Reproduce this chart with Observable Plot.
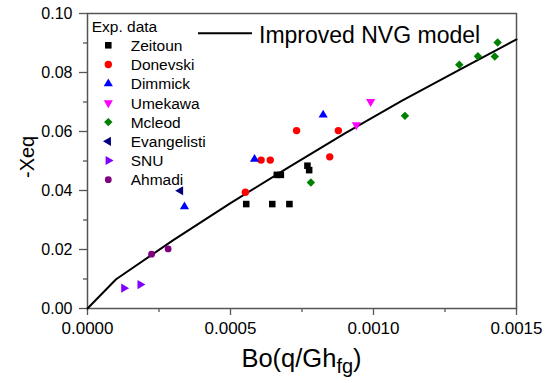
<!DOCTYPE html>
<html><head><meta charset="utf-8">
<script src="https://cdn.jsdelivr.net/npm/d3@7"></script>
<script src="https://cdn.jsdelivr.net/npm/@observablehq/plot@0.6"></script>
<style>
html,body{margin:0;padding:0;background:#fff;}
#chart svg{display:block;}
</style>
</head><body><div id="chart"></div>
<script>
// ---- data ----
const seriesNames = ["Zeitoun","Donevski","Dimmick","Umekawa","Mcleod","Evangelisti","SNU","Ahmadi"];
const zeitounX = [0.000555,0.000646,0.000706,0.000662,0.000676,0.000769,0.000775];
const zeitounY = [0.0354,0.0354,0.0354,0.0453,0.0453,0.0484,0.0469];
const donevskiX = [0.000552,0.000607,0.000639,0.000847,0.000731,0.000877];
const donevskiY = [0.0394,0.0503,0.0503,0.0514,0.0603,0.0603];
const dimmickX = [0.000584,0.000824,0.000339];
const dimmickY = [0.0506,0.0656,0.0345];
const umekawaX = [0.00099,0.00094];
const umekawaY = [0.0701,0.0622];
const mcleodX = [0.000781,0.00111,0.0013,0.001365,0.001424,0.001434];
const mcleodY = [0.0427,0.0653,0.0826,0.0855,0.0854,0.0902];
const evangelistiX = [0.000325];
const evangelistiY = [0.0399];
const snuX = [0.000127,0.000184];
const snuY = [0.0069,0.0081];
const ahmadiX = [0.000224,0.000282];
const ahmadiY = [0.0184,0.0202];
const modelX = [0,0.0001,0.0003,0.0005,0.0007,0.0009,0.0011,0.0013,0.0015];
const modelY = [0,0.0099,0.0232,0.0357,0.0477,0.0594,0.0705,0.0809,0.0912];
const xTicks = [0,0.0005,0.001,0.0015];
const xMinor = [0.00025,0.00075,0.00125];
const yTicks = [0,0.02,0.04,0.06,0.08,0.10];
const yMinor = [0.01,0.03,0.05,0.07,0.09];
const modelLabel = "Improved NVG model";
const legendTitle = "Exp. data";
const yTitle = "-Xeq";

// ---- symbols ----
function tri(angle){
  return {draw(ctx, size){
    const a = Math.sqrt(size*4/Math.sqrt(3)), h = a*Math.sqrt(3)/2;
    const c = Math.cos(angle), s = Math.sin(angle);
    const pts = [[0,-2*h/3],[a/2,h/3],[-a/2,h/3]].map(([x,y])=>[x*c-y*s, x*s+y*c]);
    ctx.moveTo(pts[0][0],pts[0][1]); ctx.lineTo(pts[1][0],pts[1][1]); ctx.lineTo(pts[2][0],pts[2][1]); ctx.closePath();
  }};
}
const d3sym = {square: d3.symbolSquare, circle: d3.symbolCircle, diamond2: d3.symbolDiamond2};
const styles = [
  {symbol:"square", fill:"#000000", r:3.7},
  {symbol:"circle", fill:"#ff0000", r:3.7},
  {symbol:tri(0), fill:"#0000ff", r:3.4},
  {symbol:tri(Math.PI), fill:"#ff00ff", r:3.4},
  {symbol:"diamond2", fill:"#008000", r:3.8},
  {symbol:tri(-Math.PI/2), fill:"#000080", r:3.4},
  {symbol:tri(Math.PI/2), fill:"#8000ff", r:3.4},
  {symbol:"circle", fill:"#800080", r:3.4}
];
const seriesX = [zeitounX,donevskiX,dimmickX,umekawaX,mcleodX,evangelistiX,snuX,ahmadiX];
const seriesY = [zeitounY,donevskiY,dimmickY,umekawaY,mcleodY,evangelistiY,snuY,ahmadiY];
const series = seriesNames.map((name,i)=>({name, ...styles[i], rows: seriesX[i].map((x,j)=>({x, y: seriesY[i][j]}))}));
const modelRows = modelX.map((x,i)=>({x, y: modelY[i]}));

const FONT = "'Liberation Sans', Arial, sans-serif";
const W = 554, H = 383, ML = 87, MR = 38, MT = 13, MB = 75;
const axisColor = "#555";

const chart = Plot.plot({
  width: W, height: H,
  marginLeft: ML, marginRight: MR, marginTop: MT, marginBottom: MB,
  style: {fontFamily: FONT, background: "#fff", color: "#000"},
  x: {domain: [0, 0.0015], axis: null},
  y: {domain: [0, 0.10], axis: null},
  marks: [
    Plot.axisX(xTicks, {label: null, tickSize: 7, tickPadding: 6, tickFormat: d3.format(".4f"), fontSize: 17, stroke: axisColor, strokeWidth: 1.3, fill: "#000"}),
    Plot.axisX(xMinor, {label: null, tickSize: 4, tickFormat: null, text: null, stroke: axisColor, strokeWidth: 1.3}),
    Plot.axisY(yTicks, {label: null, tickSize: 8, tickPadding: 7, tickFormat: d3.format(".2f"), fontSize: 16, stroke: axisColor, strokeWidth: 1.3, fill: "#000"}),
    Plot.axisY(yMinor, {label: null, tickSize: 4, tickFormat: null, text: null, stroke: axisColor, strokeWidth: 1.3}),
    Plot.frame({stroke: axisColor, strokeWidth: 1.5}),
    Plot.line(modelRows, {x: "x", y: "y", stroke: "#000", strokeWidth: 2}),
    ...series.map(s => Plot.dot(s.rows, {x: "x", y: "y", symbol: s.symbol, fill: s.fill, r: s.r, stroke: "none"})),
    Plot.text([yTitle], {frameAnchor: "left", dx: -60, dy: 17, rotate: -90, fontSize: 20, fill: "#000"})
  ]
});
document.getElementById("chart").appendChild(chart);

// ---- legend & x title (layout additions) ----
const svg = d3.select(chart);
const lg = svg.append("g").attr("font-family", FONT).attr("fill", "#000").attr("text-anchor", "start");
lg.append("text").attr("x", ML + 4.7).attr("y", MT + 19).attr("font-size", 15.5).text(legendTitle);
series.forEach((s, i) => {
  const cy = MT + 32.3 + i * 19.2;
  const size = Math.PI * s.r * s.r;
  const type = typeof s.symbol === "string" ? d3sym[s.symbol] : s.symbol;
  lg.append("path").attr("d", d3.symbol(type, size)()).attr("transform", `translate(${ML + 21.3},${cy})`).attr("fill", s.fill);
  lg.append("text").attr("x", ML + 43.7).attr("y", cy + 5.6).attr("font-size", 15.5).text(s.name);
});
lg.append("line").attr("x1", ML + 111).attr("x2", ML + 165).attr("y1", MT + 20.3).attr("y2", MT + 20.3).attr("stroke", "#000").attr("stroke-width", 2);
lg.append("text").attr("x", ML + 172).attr("y", MT + 29.7).attr("font-size", 23).text(modelLabel);

const xt = svg.append("text").attr("font-family", FONT).attr("fill", "#000").attr("text-anchor", "middle")
  .attr("x", ML + (W - ML - MR) / 2).attr("y", H - 16.3).attr("font-size", 25.5);
xt.append("tspan").text("Bo(q/Gh");
xt.append("tspan").attr("font-size", 20).attr("dy", 6).text("fg");
xt.append("tspan").attr("dy", -6).text(")");
</script>
</body></html>
